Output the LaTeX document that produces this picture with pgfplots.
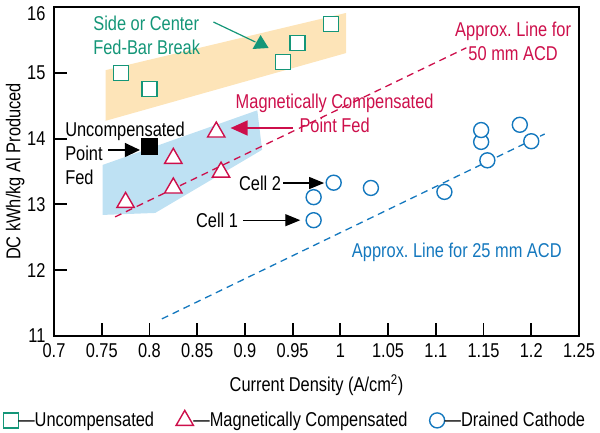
\documentclass[border=0pt]{standalone}
\usepackage{pgfplots}
\pgfplotsset{compat=1.18}
\usetikzlibrary{arrows.meta}
\usepackage{fontspec}
\setmainfont{Liberation Sans}[FakeStretch=0.82]
\newcommand\f{\fontsize{20bp}{24bp}\selectfont}
\frenchspacing

\definecolor{teal1}{RGB}{20,150,120}
\definecolor{crim}{RGB}{205,15,75}
\definecolor{blue1}{RGB}{20,120,190}
\definecolor{peach}{RGB}{253,228,184}
\definecolor{skyfill}{RGB}{190,225,243}

\begin{document}
\begin{tikzpicture}
\begin{axis}[
    scale only axis,
    width=525bp, height=329bp,
    xmin=0.7, xmax=1.25,
    ymin=11, ymax=16,
    axis line style={line width=2bp},
    xtick={0.7,0.75,...,1.25},
    xticklabels={0.7,0.75,0.8,0.85,0.9,0.95,1,1.05,1.1,1.15,1.2,1.25},
    ytick={11,12,13,14,15,16},
    yticklabels={11,12,13,14,15,\raisebox{-13bp}[0pt][0pt]{16}},
    xtick pos=left, ytick pos=left,
    tick align=inside,
    major tick length=13bp,
    major tick style={draw=black, line width=1.8bp},
    tick label style={font=\f},
    xticklabel style={yshift=-4bp},
    yticklabel style={xshift=-5bp},
    /pgf/number format/assume math mode=true,
    xlabel={Current Density (A/cm\textsuperscript{2})},
    ylabel={DC kWh/kg Al Produced},
    label style={font=\f},
    xlabel style={at={(axis description cs:0.5,-0.149)}, anchor=center},
    ylabel style={at={(axis description cs:-0.074,0.5)}, anchor=center},
    legend columns=3,
    legend style={draw=none, fill=none, inner sep=0pt, font=\f,
        at={(axis description cs:-0.097,-0.255)}, anchor=west,
        nodes={inner xsep=0pt, inner ysep=1bp},
        /tikz/every even column/.append style={column sep=22bp}},
    legend image code/.code={\draw[#1] plot coordinates {(8bp,0bp)};},
    clip=false,
]
% shaded bands
\addplot[fill=peach, draw=none, forget plot] coordinates {
    (0.754,15.04) (1.006,15.91) (1.006,15.30) (0.754,14.27)
};
\addplot[fill=skyfill, draw=none, forget plot] coordinates {
    (0.751,13.60) (0.913,14.43) (0.918,13.83) (0.806,12.87) (0.751,12.84)
};

% approx lines
\addplot[crim, line width=1.3bp, dash pattern=on 7bp off 5bp, forget plot] coordinates {
    (0.764,12.81) (1.132,15.38)
};
\addplot[blue1, line width=1.3bp, dash pattern=on 7bp off 5bp, forget plot] coordinates {
    (0.813,11.26) (1.214,14.07)
};

% uncompensated
\addplot[only marks, mark=square*, mark size=7.5bp, teal1, line width=1.4bp,
    mark options={fill=white}] coordinates {
    (0.77,15.0) (0.80,14.75) (0.94,15.16) (0.955,15.45) (0.99,15.74)
};
\addlegendentry{\textemdash Uncompensated}

% magnetically compensated
\addplot[only marks, mark=triangle*, mark size=10bp, crim, line width=1.4bp,
    mark options={fill=white}] coordinates {
    (0.775,13.03) (0.825,13.25) (0.825,13.70) (0.87,14.10) (0.875,13.49)
};
\addlegendentry{\textemdash Magnetically Compensated}

% drained cathode
\addplot[only marks, mark=*, mark size=7.5bp, blue1, line width=1.4bp,
    mark options={fill=white}] coordinates {
    (0.972,12.76) (0.972,13.11) (0.993,13.33) (1.032,13.25) (1.109,13.19)
    (1.1475,13.95) (1.1475,14.13) (1.154,13.67) (1.188,14.21) (1.20,13.96)
};
\addlegendentry{\textemdash Drained Cathode}

% uncompensated point fed
\addplot[only marks, mark=square*, mark size=8bp, black, forget plot] coordinates {
    (0.80,13.88)
};

% annotations
\node[teal1, font=\f, align=left, anchor=west, inner sep=0pt] at (axis cs:0.741,15.574)
    {Side or Center\\Fed-Bar Break};
\draw[teal1, line width=1.2bp] (axis cs:0.867,15.772) -- (axis cs:0.911,15.468);
\fill[teal1] (axis cs:0.908,15.362) -- (axis cs:0.9164,15.574) -- (axis cs:0.9248,15.377) -- cycle;

\node[crim, font=\f, align=center, inner sep=0pt] at (axis cs:1.181,15.483)
    {Approx.\ Line for\\50 mm ACD};
\node[crim, font=\f, align=center, inner sep=0pt] at (axis cs:0.994,14.389)
    {Magnetically Compensated\\Point Fed};
\draw[crim, line width=1.4bp, -{Triangle[length=17bp,width=15bp]}]
    (axis cs:0.950,14.161) -- (axis cs:0.885,14.161);

\node[black, font=\f, align=left, anchor=west, inner sep=0pt] at (axis cs:0.7116,13.781)
    {Uncompensated\\Point\\Fed};
\draw[black, line width=1.2bp, -{Triangle[length=15bp,width=14bp]}]
    (axis cs:0.757,13.827) -- (axis cs:0.790,13.827);

\node[black, font=\f, anchor=east, inner sep=0pt] at (axis cs:0.938,13.325) {Cell 2};
\draw[black, line width=1.2bp, -{Triangle[length=15bp,width=12bp]}]
    (axis cs:0.940,13.325) -- (axis cs:0.983,13.325);
\node[black, font=\f, anchor=east, inner sep=0pt] at (axis cs:0.893,12.76) {Cell 1};
\draw[black, line width=1.2bp, -{Triangle[length=15bp,width=12bp]}]
    (axis cs:0.898,12.76) -- (axis cs:0.958,12.76);

\node[blue1, font=\f, inner sep=0pt] at (axis cs:1.122,12.277) {Approx.\ Line for 25 mm ACD};
\end{axis}
% inward tick marks, drawn from the axis corner
\foreach \i in {1,...,10} {
    \draw[black, line width=1.8bp] (current axis.south west) ++(\i*47.727bp,0bp) -- ++(0bp,13bp);
}
\foreach \j in {1,...,4} {
    \draw[black, line width=1.8bp] (current axis.south west) ++(0bp,\j*65.8bp) -- ++(13bp,0bp);
}
\pgfresetboundingbox
\path[use as bounding box] (current axis.south west) ++(-54bp,-97bp) rectangle ++(600bp,433bp);
\end{tikzpicture}
\end{document}
